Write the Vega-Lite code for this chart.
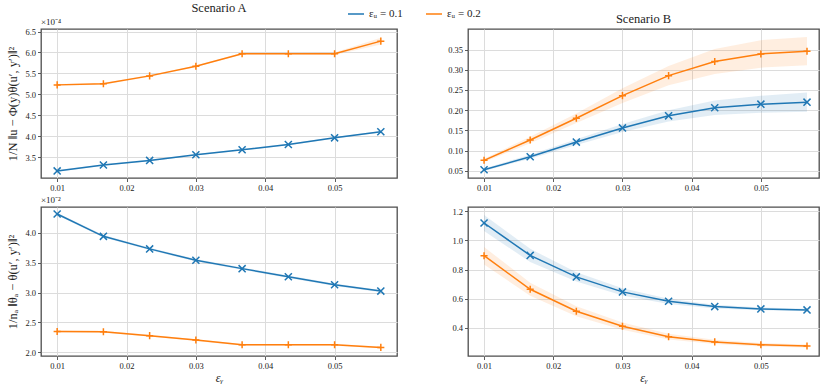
{
  "$schema": "https://vega.github.io/schema/vega-lite/v6.json",
  "autosize": {"type": "pad"},
  "padding": {"left": 6, "top": 0, "right": 5, "bottom": 3},
  "background": "white",
  "datasets": {
    "d": [
      {"p":"A1","x":0.01,"u":"0.1","v":3.17e-4,"lo":3.15e-4,"hi":3.19e-4},
      {"p":"A1","x":0.016667,"u":"0.1","v":3.31e-4,"lo":3.29e-4,"hi":3.33e-4},
      {"p":"A1","x":0.023333,"u":"0.1","v":3.42e-4,"lo":3.40e-4,"hi":3.44e-4},
      {"p":"A1","x":0.03,"u":"0.1","v":3.555e-4,"lo":3.535e-4,"hi":3.575e-4},
      {"p":"A1","x":0.036667,"u":"0.1","v":3.675e-4,"lo":3.655e-4,"hi":3.695e-4},
      {"p":"A1","x":0.043333,"u":"0.1","v":3.80e-4,"lo":3.78e-4,"hi":3.82e-4},
      {"p":"A1","x":0.05,"u":"0.1","v":3.96e-4,"lo":3.94e-4,"hi":3.98e-4},
      {"p":"A1","x":0.056667,"u":"0.1","v":4.105e-4,"lo":4.085e-4,"hi":4.125e-4},
      {"p":"A1","x":0.01,"u":"0.2","v":5.225e-4,"lo":5.205e-4,"hi":5.245e-4},
      {"p":"A1","x":0.016667,"u":"0.2","v":5.25e-4,"lo":5.23e-4,"hi":5.27e-4},
      {"p":"A1","x":0.023333,"u":"0.2","v":5.44e-4,"lo":5.42e-4,"hi":5.46e-4},
      {"p":"A1","x":0.03,"u":"0.2","v":5.67e-4,"lo":5.65e-4,"hi":5.69e-4},
      {"p":"A1","x":0.036667,"u":"0.2","v":5.97e-4,"lo":5.95e-4,"hi":5.99e-4},
      {"p":"A1","x":0.043333,"u":"0.2","v":5.97e-4,"lo":5.95e-4,"hi":5.99e-4},
      {"p":"A1","x":0.05,"u":"0.2","v":5.97e-4,"lo":5.94e-4,"hi":6.00e-4},
      {"p":"A1","x":0.056667,"u":"0.2","v":6.27e-4,"lo":6.19e-4,"hi":6.35e-4},

      {"p":"B1","x":0.01,"u":"0.1","v":0.0525,"lo":0.0495,"hi":0.0555},
      {"p":"B1","x":0.016667,"u":"0.1","v":0.0847,"lo":0.0797,"hi":0.0897},
      {"p":"B1","x":0.023333,"u":"0.1","v":0.121,"lo":0.114,"hi":0.128},
      {"p":"B1","x":0.03,"u":"0.1","v":0.156,"lo":0.146,"hi":0.166},
      {"p":"B1","x":0.036667,"u":"0.1","v":0.186,"lo":0.172,"hi":0.200},
      {"p":"B1","x":0.043333,"u":"0.1","v":0.206,"lo":0.188,"hi":0.224},
      {"p":"B1","x":0.05,"u":"0.1","v":0.2148,"lo":0.1938,"hi":0.2358},
      {"p":"B1","x":0.056667,"u":"0.1","v":0.2198,"lo":0.1958,"hi":0.2438},
      {"p":"B1","x":0.01,"u":"0.2","v":0.0758,"lo":0.0718,"hi":0.0798},
      {"p":"B1","x":0.016667,"u":"0.2","v":0.126,"lo":0.118,"hi":0.134},
      {"p":"B1","x":0.023333,"u":"0.2","v":0.180,"lo":0.168,"hi":0.192},
      {"p":"B1","x":0.03,"u":"0.2","v":0.236,"lo":0.218,"hi":0.254},
      {"p":"B1","x":0.036667,"u":"0.2","v":0.2855,"lo":0.2615,"hi":0.3095},
      {"p":"B1","x":0.043333,"u":"0.2","v":0.3203,"lo":0.2893,"hi":0.3513},
      {"p":"B1","x":0.05,"u":"0.2","v":0.3393,"lo":0.3053,"hi":0.3733},
      {"p":"B1","x":0.056667,"u":"0.2","v":0.346,"lo":0.311,"hi":0.381},

      {"p":"A2","x":0.01,"u":"0.1","v":4.313e-2,"lo":4.293e-2,"hi":4.333e-2},
      {"p":"A2","x":0.016667,"u":"0.1","v":3.94e-2,"lo":3.92e-2,"hi":3.96e-2},
      {"p":"A2","x":0.023333,"u":"0.1","v":3.73e-2,"lo":3.71e-2,"hi":3.75e-2},
      {"p":"A2","x":0.03,"u":"0.1","v":3.54e-2,"lo":3.52e-2,"hi":3.56e-2},
      {"p":"A2","x":0.036667,"u":"0.1","v":3.40e-2,"lo":3.38e-2,"hi":3.42e-2},
      {"p":"A2","x":0.043333,"u":"0.1","v":3.264e-2,"lo":3.244e-2,"hi":3.284e-2},
      {"p":"A2","x":0.05,"u":"0.1","v":3.13e-2,"lo":3.11e-2,"hi":3.15e-2},
      {"p":"A2","x":0.056667,"u":"0.1","v":3.025e-2,"lo":3.005e-2,"hi":3.045e-2},
      {"p":"A2","x":0.01,"u":"0.2","v":2.35e-2,"lo":2.335e-2,"hi":2.365e-2},
      {"p":"A2","x":0.016667,"u":"0.2","v":2.345e-2,"lo":2.33e-2,"hi":2.36e-2},
      {"p":"A2","x":0.023333,"u":"0.2","v":2.28e-2,"lo":2.265e-2,"hi":2.295e-2},
      {"p":"A2","x":0.03,"u":"0.2","v":2.206e-2,"lo":2.191e-2,"hi":2.221e-2},
      {"p":"A2","x":0.036667,"u":"0.2","v":2.127e-2,"lo":2.112e-2,"hi":2.142e-2},
      {"p":"A2","x":0.043333,"u":"0.2","v":2.127e-2,"lo":2.112e-2,"hi":2.142e-2},
      {"p":"A2","x":0.05,"u":"0.2","v":2.127e-2,"lo":2.112e-2,"hi":2.142e-2},
      {"p":"A2","x":0.056667,"u":"0.2","v":2.084e-2,"lo":2.069e-2,"hi":2.099e-2},

      {"p":"B2","x":0.01,"u":"0.1","v":1.12,"lo":1.065,"hi":1.175},
      {"p":"B2","x":0.016667,"u":"0.1","v":0.897,"lo":0.852,"hi":0.942},
      {"p":"B2","x":0.023333,"u":"0.1","v":0.749,"lo":0.717,"hi":0.781},
      {"p":"B2","x":0.03,"u":"0.1","v":0.646,"lo":0.621,"hi":0.671},
      {"p":"B2","x":0.036667,"u":"0.1","v":0.5815,"lo":0.5635,"hi":0.5995},
      {"p":"B2","x":0.043333,"u":"0.1","v":0.545,"lo":0.532,"hi":0.558},
      {"p":"B2","x":0.05,"u":"0.1","v":0.529,"lo":0.519,"hi":0.539},
      {"p":"B2","x":0.056667,"u":"0.1","v":0.522,"lo":0.514,"hi":0.530},
      {"p":"B2","x":0.01,"u":"0.2","v":0.895,"lo":0.835,"hi":0.955},
      {"p":"B2","x":0.016667,"u":"0.2","v":0.664,"lo":0.619,"hi":0.709},
      {"p":"B2","x":0.023333,"u":"0.2","v":0.513,"lo":0.478,"hi":0.548},
      {"p":"B2","x":0.03,"u":"0.2","v":0.41,"lo":0.385,"hi":0.435},
      {"p":"B2","x":0.036667,"u":"0.2","v":0.338,"lo":0.318,"hi":0.358},
      {"p":"B2","x":0.043333,"u":"0.2","v":0.302,"lo":0.287,"hi":0.317},
      {"p":"B2","x":0.05,"u":"0.2","v":0.283,"lo":0.271,"hi":0.295},
      {"p":"B2","x":0.056667,"u":"0.2","v":0.274,"lo":0.264,"hi":0.284}
    ]
  },
  "data": {"name": "d"},
  "bounds": "flush",
  "columns": 2,
  "spacing": {"row": 29, "column": 71},
  "resolve": {"scale": {"x": "independent", "y": "independent", "color": "shared", "stroke": "shared", "fill": "shared", "shape": "shared"}},
  "concat": [
    {
      "width": 356, "height": 149,
      "title": {"text": "Scenario A"},
      "layer": [
        {
          "transform": [{"filter": "datum.p === 'A1'"}],
          "mark": {"type": "area", "fillOpacity": 0.13},
          "encoding": {
            "x": {"field": "x", "type": "quantitative", "scale": {"domain": [0.00767, 0.059], "nice": false, "zero": false}, "axis": {"values": [0.01, 0.02, 0.03, 0.04, 0.05], "format": ".2f", "title": null, "labelOverlap": false}},
            "y": {"field": "lo", "type": "quantitative", "scale": {"domain": [3.0e-4, 6.56e-4], "nice": false, "zero": false}, "axis": {"values": [3.5e-4, 4.0e-4, 4.5e-4, 5.0e-4, 5.5e-4, 6.0e-4, 6.5e-4], "labelExpr": "format(datum.value*10000, '.1f')", "title": "1/N ‖u − Φ(y)θ(u′, y′)‖²", "titlePadding": 5, "labelOverlap": false}},
            "y2": {"field": "hi"},
            "fill": {"field": "u", "type": "nominal", "scale": {"range": ["#1f77b4", "#ff7f0e"]}, "legend": null}
          }
        },
        {
          "transform": [{"filter": "datum.p === 'A1'"}],
          "mark": {"type": "line", "strokeWidth": 1.5},
          "encoding": {
            "x": {"field": "x", "type": "quantitative", "axis": {"values": [0.01, 0.02, 0.03, 0.04, 0.05], "format": ".2f", "title": null, "labelOverlap": false}},
            "y": {"field": "v", "type": "quantitative", "axis": {"values": [3.5e-4, 4.0e-4, 4.5e-4, 5.0e-4, 5.5e-4, 6.0e-4, 6.5e-4], "labelExpr": "format(datum.value*10000, '.1f')", "title": "1/N ‖u − Φ(y)θ(u′, y′)‖²", "titlePadding": 5, "labelOverlap": false}},
            "color": {"field": "u", "type": "nominal", "scale": {"domain": ["0.1", "0.2"], "range": ["#1f77b4", "#ff7f0e"]}, "legend": {
              "orient": "none", "legendX": 306, "legendY": -24, "direction": "horizontal", "title": null,
              "symbolSize": 256, "symbolStrokeWidth": 1.5, "labelFontSize": 11, "labelOffset": 4, "columnPadding": 20,
              "labelExpr": "'εᵤ = ' + datum.label"
            }}
          }
        },
        {
          "transform": [{"filter": "datum.p === 'A1'"}],
          "mark": {"type": "point", "filled": false, "strokeWidth": 1.5, "size": 50, "opacity": 1},
          "encoding": {
            "x": {"field": "x", "type": "quantitative", "axis": {"values": [0.01, 0.02, 0.03, 0.04, 0.05], "format": ".2f", "title": null, "labelOverlap": false}},
            "y": {"field": "v", "type": "quantitative", "axis": {"values": [3.5e-4, 4.0e-4, 4.5e-4, 5.0e-4, 5.5e-4, 6.0e-4, 6.5e-4], "labelExpr": "format(datum.value*10000, '.1f')", "title": "1/N ‖u − Φ(y)θ(u′, y′)‖²", "titlePadding": 5, "labelOverlap": false}},
            "stroke": {"field": "u", "type": "nominal", "scale": {"range": ["#1f77b4", "#ff7f0e"]}, "legend": null},
            "shape": {"field": "u", "type": "nominal", "scale": {"range": ["M-1,-1L1,1M1,-1L-1,1", "M-1,0L1,0M0,-1L0,1"]}, "legend": null}
          }
        },
        {
          "data": {"values": [{"t": "×10⁻⁴"}]},
          "mark": {"type": "text", "align": "left", "baseline": "bottom", "dy": -2, "fontSize": 9, "color": "#222"},
          "encoding": {
            "x": {"datum": 0.00767, "type": "quantitative", "axis": {"values": [0.01, 0.02, 0.03, 0.04, 0.05], "format": ".2f", "title": null, "labelOverlap": false}},
            "y": {"datum": 6.56e-4, "type": "quantitative", "axis": {"values": [3.5e-4, 4.0e-4, 4.5e-4, 5.0e-4, 5.5e-4, 6.0e-4, 6.5e-4], "labelExpr": "format(datum.value*10000, '.1f')", "title": "1/N ‖u − Φ(y)θ(u′, y′)‖²", "titlePadding": 5, "labelOverlap": false}},
            "text": {"field": "t"}
          }
        }
      ]
    },
    {
      "width": 351, "height": 149,
      "title": {"text": "Scenario B"},
      "layer": [
        {
          "transform": [{"filter": "datum.p === 'B1'"}],
          "mark": {"type": "area", "fillOpacity": 0.13},
          "encoding": {
            "x": {"field": "x", "type": "quantitative", "scale": {"domain": [0.00768, 0.0584], "nice": false, "zero": false}, "axis": {"values": [0.01, 0.02, 0.03, 0.04, 0.05], "format": ".2f", "title": null, "labelOverlap": false}},
            "y": {"field": "lo", "type": "quantitative", "scale": {"domain": [0.032, 0.401], "nice": false, "zero": false}, "axis": {"values": [0.05, 0.1, 0.15, 0.2, 0.25, 0.3, 0.35], "format": ".2f", "title": null, "labelOverlap": false}},
            "y2": {"field": "hi"},
            "fill": {"field": "u", "type": "nominal", "legend": null}
          }
        },
        {
          "transform": [{"filter": "datum.p === 'B1'"}],
          "mark": {"type": "line", "strokeWidth": 1.5},
          "encoding": {
            "x": {"field": "x", "type": "quantitative", "axis": {"values": [0.01, 0.02, 0.03, 0.04, 0.05], "format": ".2f", "title": null, "labelOverlap": false}},
            "y": {"field": "v", "type": "quantitative", "axis": {"values": [0.05, 0.1, 0.15, 0.2, 0.25, 0.3, 0.35], "format": ".2f", "title": null, "labelOverlap": false}},
            "stroke": {"field": "u", "type": "nominal", "legend": null}
          }
        },
        {
          "transform": [{"filter": "datum.p === 'B1'"}],
          "mark": {"type": "point", "filled": false, "strokeWidth": 1.5, "size": 50, "opacity": 1},
          "encoding": {
            "x": {"field": "x", "type": "quantitative", "axis": {"values": [0.01, 0.02, 0.03, 0.04, 0.05], "format": ".2f", "title": null, "labelOverlap": false}},
            "y": {"field": "v", "type": "quantitative", "axis": {"values": [0.05, 0.1, 0.15, 0.2, 0.25, 0.3, 0.35], "format": ".2f", "title": null, "labelOverlap": false}},
            "stroke": {"field": "u", "type": "nominal", "legend": null},
            "shape": {"field": "u", "type": "nominal", "legend": null}
          }
        }
      ]
    },
    {
      "width": 356, "height": 149,
      "layer": [
        {
          "transform": [{"filter": "datum.p === 'A2'"}],
          "mark": {"type": "area", "fillOpacity": 0.13},
          "encoding": {
            "x": {"field": "x", "type": "quantitative", "scale": {"domain": [0.00767, 0.059], "nice": false, "zero": false}, "axis": {"values": [0.01, 0.02, 0.03, 0.04, 0.05], "format": ".2f", "title": "εᵧ", "titleFontStyle": "italic", "titleFontSize": 12, "titlePadding": 2, "labelOverlap": false}},
            "y": {"field": "lo", "type": "quantitative", "scale": {"domain": [0.0194, 0.0443], "nice": false, "zero": false}, "axis": {"values": [0.02, 0.025, 0.03, 0.035, 0.04], "labelExpr": "format(datum.value*100, '.1f')", "title": "1/nₐ ‖θₐ − θ(u′, y′)‖²", "titlePadding": 5, "labelOverlap": false}},
            "y2": {"field": "hi"},
            "fill": {"field": "u", "type": "nominal", "legend": null}
          }
        },
        {
          "transform": [{"filter": "datum.p === 'A2'"}],
          "mark": {"type": "line", "strokeWidth": 1.5},
          "encoding": {
            "x": {"field": "x", "type": "quantitative", "axis": {"values": [0.01, 0.02, 0.03, 0.04, 0.05], "format": ".2f", "title": "εᵧ", "titleFontStyle": "italic", "titleFontSize": 12, "titlePadding": 2, "labelOverlap": false}},
            "y": {"field": "v", "type": "quantitative", "axis": {"values": [0.02, 0.025, 0.03, 0.035, 0.04], "labelExpr": "format(datum.value*100, '.1f')", "title": "1/nₐ ‖θₐ − θ(u′, y′)‖²", "titlePadding": 5, "labelOverlap": false}},
            "stroke": {"field": "u", "type": "nominal", "legend": null}
          }
        },
        {
          "transform": [{"filter": "datum.p === 'A2'"}],
          "mark": {"type": "point", "filled": false, "strokeWidth": 1.5, "size": 50, "opacity": 1},
          "encoding": {
            "x": {"field": "x", "type": "quantitative", "axis": {"values": [0.01, 0.02, 0.03, 0.04, 0.05], "format": ".2f", "title": "εᵧ", "titleFontStyle": "italic", "titleFontSize": 12, "titlePadding": 2, "labelOverlap": false}},
            "y": {"field": "v", "type": "quantitative", "axis": {"values": [0.02, 0.025, 0.03, 0.035, 0.04], "labelExpr": "format(datum.value*100, '.1f')", "title": "1/nₐ ‖θₐ − θ(u′, y′)‖²", "titlePadding": 5, "labelOverlap": false}},
            "stroke": {"field": "u", "type": "nominal", "legend": null},
            "shape": {"field": "u", "type": "nominal", "legend": null}
          }
        },
        {
          "data": {"values": [{"t": "×10⁻²"}]},
          "mark": {"type": "text", "align": "left", "baseline": "bottom", "dy": -2, "fontSize": 9, "color": "#222"},
          "encoding": {
            "x": {"datum": 0.00767, "type": "quantitative", "axis": {"values": [0.01, 0.02, 0.03, 0.04, 0.05], "format": ".2f", "title": "εᵧ", "titleFontStyle": "italic", "titleFontSize": 12, "titlePadding": 2, "labelOverlap": false}},
            "y": {"datum": 0.0443, "type": "quantitative", "axis": {"values": [0.02, 0.025, 0.03, 0.035, 0.04], "labelExpr": "format(datum.value*100, '.1f')", "title": "1/nₐ ‖θₐ − θ(u′, y′)‖²", "titlePadding": 5, "labelOverlap": false}},
            "text": {"field": "t"}
          }
        }
      ]
    },
    {
      "width": 351, "height": 149,
      "layer": [
        {
          "transform": [{"filter": "datum.p === 'B2'"}],
          "mark": {"type": "area", "fillOpacity": 0.13},
          "encoding": {
            "x": {"field": "x", "type": "quantitative", "scale": {"domain": [0.00768, 0.0584], "nice": false, "zero": false}, "axis": {"values": [0.01, 0.02, 0.03, 0.04, 0.05], "format": ".2f", "title": "εᵧ", "titleFontStyle": "italic", "titleFontSize": 12, "titlePadding": 2, "labelOverlap": false}},
            "y": {"field": "lo", "type": "quantitative", "scale": {"domain": [0.205, 1.23], "nice": false, "zero": false}, "axis": {"values": [0.4, 0.6, 0.8, 1.0, 1.2], "format": ".1f", "title": null, "labelOverlap": false}},
            "y2": {"field": "hi"},
            "fill": {"field": "u", "type": "nominal", "legend": null}
          }
        },
        {
          "transform": [{"filter": "datum.p === 'B2'"}],
          "mark": {"type": "line", "strokeWidth": 1.5},
          "encoding": {
            "x": {"field": "x", "type": "quantitative", "axis": {"values": [0.01, 0.02, 0.03, 0.04, 0.05], "format": ".2f", "title": "εᵧ", "titleFontStyle": "italic", "titleFontSize": 12, "titlePadding": 2, "labelOverlap": false}},
            "y": {"field": "v", "type": "quantitative", "axis": {"values": [0.4, 0.6, 0.8, 1.0, 1.2], "format": ".1f", "title": null, "labelOverlap": false}},
            "stroke": {"field": "u", "type": "nominal", "legend": null}
          }
        },
        {
          "transform": [{"filter": "datum.p === 'B2'"}],
          "mark": {"type": "point", "filled": false, "strokeWidth": 1.5, "size": 50, "opacity": 1},
          "encoding": {
            "x": {"field": "x", "type": "quantitative", "axis": {"values": [0.01, 0.02, 0.03, 0.04, 0.05], "format": ".2f", "title": "εᵧ", "titleFontStyle": "italic", "titleFontSize": 12, "titlePadding": 2, "labelOverlap": false}},
            "y": {"field": "v", "type": "quantitative", "axis": {"values": [0.4, 0.6, 0.8, 1.0, 1.2], "format": ".1f", "title": null, "labelOverlap": false}},
            "stroke": {"field": "u", "type": "nominal", "legend": null},
            "shape": {"field": "u", "type": "nominal", "legend": null}
          }
        }
      ]
    }
  ],
  "config": {
    "font": "Liberation Serif",
    "view": {"stroke": "#4d4d4d", "strokeWidth": 1.3},
    "axis": {"domain": false, "grid": true, "gridColor": "#dcdcdc", "gridWidth": 1, "tickColor": "#333", "tickSize": 3.5, "tickWidth": 0.8, "labelFontSize": 8.5, "labelColor": "#222", "labelPadding": 2, "labelOverlap": false, "labelFlush": false, "titleFontWeight": "normal", "titleFontSize": 12.5, "titleColor": "#222"},
    "legend": {"labelColor": "#222"},
    "title": {"fontSize": 12.5, "fontWeight": "normal", "offset": 4, "color": "#222"}
  }
}
